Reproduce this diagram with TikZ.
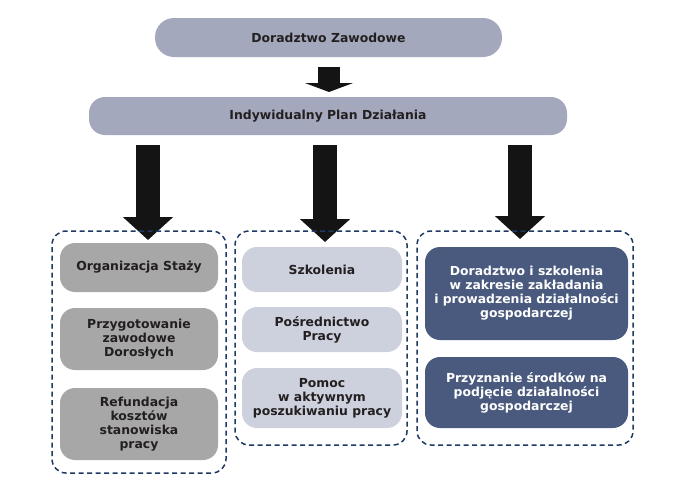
\documentclass[tikz,border=0pt]{standalone}
\usepackage{fontspec}
\setmainfont{DejaVu Sans}
\usetikzlibrary{arrows.meta,calc}
\definecolor{topc}{HTML}{A3A8BD}
\definecolor{grayc}{HTML}{A7A7A7}
\definecolor{lavc}{HTML}{CDD0DD}
\definecolor{navyc}{HTML}{4A5A7E}
\definecolor{dashc}{HTML}{1C3A62}
\definecolor{txtc}{HTML}{231F20}
\tikzset{
  topbox/.style={fill=topc, draw=none, text=txtc, align=center},
  innerbox/.style={draw=none, text=txtc, align=center, rounded corners=15pt, inner sep=2pt},
  grbox/.style={innerbox, fill=grayc},
  lvbox/.style={innerbox, fill=lavc},
  nvbox/.style={innerbox, fill=navyc, text=white},
  dashbox/.style={draw=dashc, line width=1.5pt, dash pattern=on 5pt off 3.5pt, rounded corners=14pt, fill=none},
  bigarrow/.style={line width=24pt, draw=black!92, -{Triangle[width=49pt,length=23pt]}, fill=black!92},
  smallarrow/.style={line width=22pt, draw=black!92, -{Triangle[width=48pt,length=9pt]}, fill=black!92}
}
\begin{document}
\begin{tikzpicture}[x=1pt,y=-1pt, font=\bfseries\fontsize{12.4}{14}\selectfont]
\useasboundingbox (0,0) rectangle (684,490);
% top boxes
\node[topbox, minimum width=347pt, minimum height=39pt, rounded corners=19pt] (dz) at (328.5,37.5) {Doradztwo Zawodowe};
\node[topbox, minimum width=478pt, minimum height=38pt, rounded corners=16pt] (ipd) at (328,116) {Indywidualny Plan Działania};
% arrow between top boxes
\coordinate (a0) at (329,92);
\draw[smallarrow] ($(dz.south -| a0)+(0,10)$) -- (a0);
% big arrows
\coordinate (aL) at (148,240);
\coordinate (aM) at (325,242);
\coordinate (aR) at (520,239);
\draw[bigarrow] ($(ipd.south -| aL)+(0,10)$) -- (aL);
\draw[bigarrow] ($(ipd.south -| aM)+(0,10)$) -- (aM);
\draw[bigarrow] ($(ipd.south -| aR)+(0,10)$) -- (aR);
% dashed groups
\node[dashbox, minimum width=174pt, minimum height=242pt] (gL) at (139,352) {};
\node[dashbox, minimum width=172pt, minimum height=214pt] (gM) at (321,338) {};
\node[dashbox, minimum width=216pt, minimum height=214pt] (gR) at (525,338) {};
% left column
\node[grbox, minimum width=158pt, minimum height=49pt] (L1) at (139,267.5) {Organizacja Staży};
\node[grbox, minimum width=158pt, minimum height=62pt] (L2) at (139,339) {Przygotowanie\\zawodowe\\Dorosłych};
\node[grbox, minimum width=158pt, minimum height=72pt] (L3) at (139,424) {Refundacja\\kosztów\\stanowiska\\pracy};
% middle column
\node[lvbox, minimum width=160pt, minimum height=45pt] (M1) at (322,269.5) {Szkolenia};
\node[lvbox, minimum width=160pt, minimum height=45pt] (M2) at (322,329.5) {Pośrednictwo\\Pracy};
\node[lvbox, minimum width=160pt, minimum height=60pt] (M3) at (322,398) {Pomoc\\w aktywnym\\poszukiwaniu pracy};
% right column
\node[nvbox, minimum width=203pt, minimum height=93pt] (R1) at (526.5,293.5) {Doradztwo i szkolenia\\w zakresie zakładania\\i prowadzenia działalności\\gospodarczej};
\node[nvbox, minimum width=203pt, minimum height=71pt] (R2) at (526.5,392.5) {Przyznanie środków na\\podjęcie działalności\\gospodarczej};
\end{tikzpicture}
\end{document}
